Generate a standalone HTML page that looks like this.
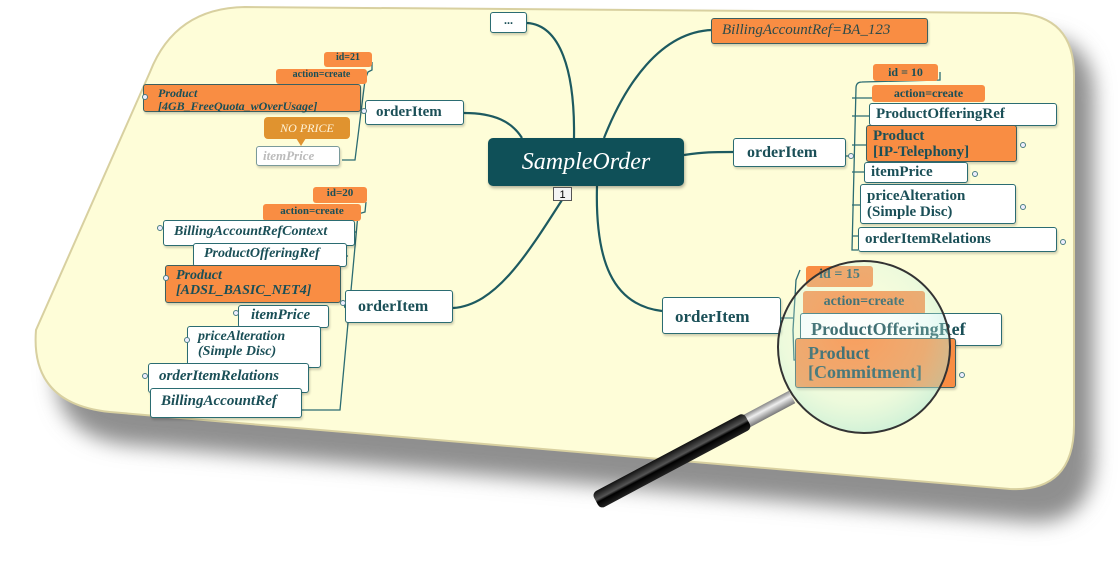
<!DOCTYPE html>
<html><head><meta charset="utf-8">
<style>
html,body{margin:0;padding:0;background:#fff;}
#c{position:relative;width:1118px;height:571px;overflow:hidden;background:#fff;font-family:"Liberation Serif",serif;}
.n{position:absolute;box-sizing:border-box;border:1.5px solid #2b6c72;border-radius:3px;background:#fff;color:#1a4f57;font-weight:bold;line-height:1.05;padding:2px 6px;white-space:nowrap;box-shadow:1px 2px 2px rgba(0,0,0,0.18);}
.o{background:#f98d43;border-color:#3c6060;}
.t{background:#f98d43;border:none;box-shadow:none;text-align:center;}
.i{font-style:italic;}
.dot{position:absolute;width:6px;height:6px;border:1px solid #4a7d82;border-radius:50%;background:#eef;box-sizing:border-box;}
</style></head><body>
<div id="c">
<svg width="1118" height="571" style="position:absolute;left:0;top:0">
<defs>
<filter id="sh" x="-10%" y="-10%" width="130%" height="140%"><feGaussianBlur stdDeviation="10"/></filter>
<radialGradient id="lens" cx="45%" cy="40%" r="60%"><stop offset="0" stop-color="#f4fff4" stop-opacity="0.15"/><stop offset="0.7" stop-color="#c8f4e4" stop-opacity="0.3"/><stop offset="1" stop-color="#a6e6d6" stop-opacity="0.5"/></radialGradient>
<linearGradient id="hd" x1="0" y1="0" x2="0" y2="1"><stop offset="0" stop-color="#111"/><stop offset="0.45" stop-color="#555"/><stop offset="0.6" stop-color="#000"/><stop offset="1" stop-color="#222"/></linearGradient>
<linearGradient id="mt" x1="0" y1="0" x2="0" y2="1"><stop offset="0" stop-color="#888"/><stop offset="0.4" stop-color="#eee"/><stop offset="1" stop-color="#777"/></linearGradient>
</defs>
<path d="M 265,30 L 1035,35 Q 1094,37 1094,97 L 1094,455 Q 1094,525 1030,522 L 130,445 Q 50,437 56,363 L 170,95 Q 195,31 265,30 Z" fill="#8f8f8f" filter="url(#sh)"/>
<path d="M 245,7 L 1015,13 Q 1074,15 1074,75 L 1074,425 Q 1074,492 1010,489 L 110,412 Q 30,404 36,330 L 150,72 Q 175,8 245,7 Z" fill="#fefdd8" stroke="#d8d0a0" stroke-width="2"/>
<g fill="none" stroke="#1d5a60" stroke-width="2.2">
<path d="M527,23 C560,25 575,70 574,138"/>
<path d="M604,138 C625,85 660,32 712,30"/>
<path d="M684,155 C705,152 712,152 733,152"/>
<path d="M597,186 C595,260 612,305 662,311"/>
<path d="M464,113 C495,113 512,122 522,138"/>
<path d="M453,308 C495,305 525,258 562,200"/>
</g>
<g fill="none" stroke="#2b6c72" stroke-width="1.3">
<path d="M940,72 L940,80 L862,82 Q856,82 856,88 L852,250 L858,250"/>
<path d="M852,98 L872,98 M852,116 L869,116 M852,145 L866,145 M852,172 L864,172 M852,205 L860,205 M852,236 L858,236 M846,156 L852,156"/>
<path d="M372,62 L372,70 L368,72 L365,80 L355,160 L342,160 M360,100 L361,100 M362,113 L366,113"/>
<path d="M366,202 L365,212 L358,214 L340,410 L302,410 M356,232 L355,232 M348,256 L347,256 M343,300 L345,308 L345,308"/>
<path d="M800,270 L796,280 L793,330 L794,360 L795,360 M781,318 L793,318"/>
</g>
</svg>

<div class="n" style="left:490px;top:12px;width:37px;height:21px;font-size:12px;text-align:center;padding:1px 0">...</div>
<div class="n o i" style="left:711px;top:18px;width:217px;height:26px;font-size:15px;font-weight:normal;padding:4px 0 0 10px;color:#2a4a4a">BillingAccountRef=BA_123</div>
<div style="position:absolute;left:488px;top:138px;width:196px;height:48px;background:#0f5058;border-radius:5px;color:#fff;font-style:italic;font-size:24px;text-align:center;line-height:48px;box-shadow:1px 2px 3px rgba(0,0,0,0.3)">SampleOrder</div>
<div style="position:absolute;left:553px;top:187px;width:19px;height:14px;border:1px solid #555;background:#f4f4f4;font:11px 'Liberation Sans',sans-serif;text-align:center;line-height:14px;box-sizing:border-box">1</div>

<div class="n" style="left:733px;top:138px;width:113px;height:29px;font-size:16px;padding:6px 0 0 13px">orderItem</div>
<div class="n t" style="left:873px;top:64px;width:65px;height:17px;font-size:12px;padding-top:2px">id = 10</div>
<div class="n t" style="left:872px;top:85px;width:113px;height:17px;font-size:12px;padding-top:2px">action=create</div>
<div class="n" style="left:869px;top:103px;width:188px;height:23px;font-size:15px;padding-top:3px">ProductOfferingRef</div>
<div class="n o" style="left:866px;top:125px;width:151px;height:37px;font-size:15px;padding-top:3px">Product<br>[IP-Telephony]</div>
<div class="n" style="left:864px;top:162px;width:104px;height:21px;font-size:15px;padding-top:2px">itemPrice</div>
<div class="n" style="left:860px;top:184px;width:156px;height:40px;font-size:15px;padding-top:4px">priceAlteration<br>(Simple Disc)</div>
<div class="n" style="left:858px;top:227px;width:199px;height:25px;font-size:15px;padding-top:4px">orderItemRelations</div>
<div class="dot" style="left:1020px;top:142px"></div>
<div class="dot" style="left:972px;top:171px"></div>
<div class="dot" style="left:1020px;top:204px"></div>
<div class="dot" style="left:1060px;top:239px"></div>
<div class="dot" style="left:848px;top:153px"></div>

<div class="n" style="left:365px;top:100px;width:99px;height:25px;font-size:15px;padding:4px 0 0 10px">orderItem</div>
<div class="n t" style="left:324px;top:52px;width:48px;height:15px;font-size:10px;padding-top:1px">id=21</div>
<div class="n t" style="left:276px;top:69px;width:91px;height:15px;font-size:10px;padding-top:1px">action=create</div>
<div class="n o i" style="left:143px;top:84px;width:218px;height:28px;font-size:12px;padding:2px 0 0 14px">Product<br>[4GB_FreeQuota_wOverUsage]</div>
<div style="position:absolute;left:264px;top:117px;width:86px;height:22px;background:#e0932f;border-radius:4px;color:#fff3d8;font-style:italic;font-size:12px;text-align:center;line-height:22px">NO PRICE</div>
<div style="position:absolute;left:296px;top:138px;width:0;height:0;border-left:5px solid transparent;border-right:5px solid transparent;border-top:8px solid #e0932f"></div>
<div class="n i" style="left:256px;top:146px;width:84px;height:20px;font-size:13px;color:#bbb;border-color:#7a9a9a;padding-top:2px">itemPrice</div>
<div class="dot" style="left:142px;top:94px"></div>
<div class="dot" style="left:361px;top:108px"></div>

<div class="n" style="left:345px;top:290px;width:108px;height:33px;font-size:16px;padding:8px 0 0 12px">orderItem</div>
<div class="n t" style="left:313px;top:187px;width:54px;height:16px;font-size:11px;padding-top:1px">id=20</div>
<div class="n t" style="left:263px;top:204px;width:98px;height:17px;font-size:11px;padding-top:2px">action=create</div>
<div class="n i" style="left:163px;top:220px;width:192px;height:26px;font-size:14px;padding:4px 0 0 10px">BillingAccountRefContext</div>
<div class="n i" style="left:193px;top:243px;width:154px;height:24px;font-size:14px;padding:3px 0 0 10px">ProductOfferingRef</div>
<div class="n o i" style="left:165px;top:265px;width:176px;height:38px;font-size:14px;padding:3px 0 0 10px">Product<br>[ADSL_BASIC_NET4]</div>
<div class="n i" style="left:238px;top:305px;width:91px;height:23px;font-size:15px;padding:2px 0 0 12px">itemPrice</div>
<div class="n i" style="left:187px;top:326px;width:134px;height:42px;font-size:14px;padding:3px 0 0 10px">priceAlteration<br>(Simple Disc)</div>
<div class="n i" style="left:148px;top:363px;width:161px;height:30px;font-size:15px;padding:5px 0 0 10px">orderItemRelations</div>
<div class="n i" style="left:150px;top:388px;width:152px;height:30px;font-size:15px;padding:5px 0 0 10px">BillingAccountRef</div>
<div class="dot" style="left:157px;top:225px"></div>
<div class="dot" style="left:163px;top:275px"></div>
<div class="dot" style="left:233px;top:310px"></div>
<div class="dot" style="left:184px;top:337px"></div>
<div class="dot" style="left:142px;top:373px"></div>
<div class="dot" style="left:340px;top:300px"></div>

<div class="n" style="left:662px;top:297px;width:119px;height:37px;font-size:17px;padding:10px 0 0 12px">orderItem</div>
<div class="n t" style="left:806px;top:266px;width:67px;height:21px;font-size:14px;padding-top:2px">id = 15</div>
<div class="n t" style="left:803px;top:291px;width:122px;height:24px;font-size:14px;padding-top:4px">action=create</div>
<div class="n" style="left:800px;top:313px;width:202px;height:33px;font-size:18px;padding:6px 0 0 10px">ProductOfferingRef</div>
<div class="n o" style="left:795px;top:338px;width:161px;height:50px;font-size:18px;padding:5px 0 0 12px">Product<br>[Commitment]</div>
<div class="dot" style="left:959px;top:372px"></div>

<svg width="1118" height="571" style="position:absolute;left:0;top:0">
<circle cx="864" cy="347" r="86" fill="url(#lens)" stroke="#333" stroke-width="2"/>
<g transform="translate(792,397) rotate(-28)">
<rect x="-52" y="-7" width="52" height="14" fill="url(#mt)"/>
<rect x="-222" y="-9" width="172" height="18" rx="5" fill="url(#hd)"/>
</g>
</svg>
</div>
</body></html>
